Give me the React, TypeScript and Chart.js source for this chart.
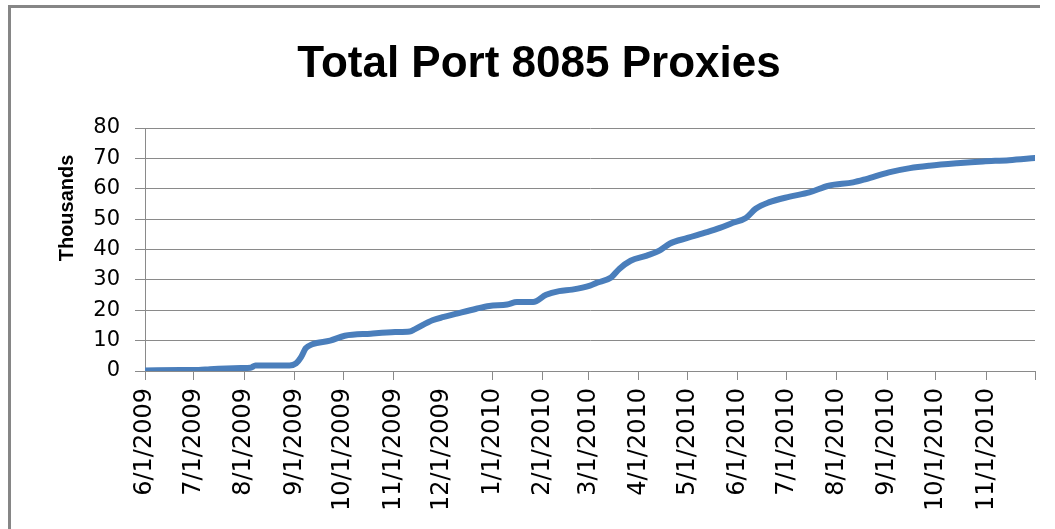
import React, { useEffect, useRef } from "react";
import { Chart, registerables } from "chart.js";

Chart.register(...registerables);

const chartTitle = "Total Port 8085 Proxies";
const yAxisTitle = "Thousands";

const obsDates = [
  "2009-06-01", "2009-06-23", "2009-07-04", "2009-07-11", "2009-07-30", "2009-08-05",
  "2009-08-08", "2009-08-29", "2009-09-02", "2009-09-05", "2009-09-08", "2009-09-12",
  "2009-09-23", "2009-10-02", "2009-10-18", "2009-11-02", "2009-11-11", "2009-11-14",
  "2009-11-25", "2009-12-02", "2009-12-10", "2009-12-22", "2009-12-30", "2010-01-10",
  "2010-01-16", "2010-01-26", "2010-02-03", "2010-02-11", "2010-02-19", "2010-03-02",
  "2010-03-06", "2010-03-15", "2010-03-20", "2010-03-27", "2010-04-06", "2010-04-14",
  "2010-04-20", "2010-05-01", "2010-05-13", "2010-05-21", "2010-05-29", "2010-06-06",
  "2010-06-12", "2010-06-20", "2010-07-03", "2010-07-15", "2010-07-27", "2010-08-11",
  "2010-08-19", "2010-09-02", "2010-09-15", "2010-09-27", "2010-10-14", "2010-10-30",
  "2010-11-15", "2010-12-01",
];
const proxiesThousands = [
  0.2, 0.3, 0.3, 0.6, 1.0, 1.1,
  1.8, 1.8, 2.5, 4.5, 7.5, 8.8,
  10.0, 11.6, 12.3, 12.8, 13.0, 13.7,
  16.7, 17.8, 18.9, 20.5, 21.4, 21.9,
  22.7, 22.7, 25.1, 26.3, 26.8, 28.1,
  29.0, 30.8, 33.6, 36.3, 38.0, 39.7,
  41.9, 43.8, 45.7, 47.1, 48.8, 50.4,
  53.4, 55.5, 57.4, 58.8, 61.0, 62.1,
  63.2, 65.4, 66.8, 67.6, 68.4, 69.0,
  69.4, 70.1,
];

// X axis ticks (month starts); last tick has no label
const tickDates = [
  "2009-06-01", "2009-07-01", "2009-08-01", "2009-09-01", "2009-10-01", "2009-11-01",
  "2009-12-01", "2010-01-01", "2010-02-01", "2010-03-01", "2010-04-01", "2010-05-01",
  "2010-06-01", "2010-07-01", "2010-08-01", "2010-09-01", "2010-10-01", "2010-11-01",
  "2010-12-01",
];
const tickLabels = [
  "6/1/2009", "7/1/2009", "8/1/2009", "9/1/2009", "10/1/2009", "11/1/2009",
  "12/1/2009", "1/1/2010", "2/1/2010", "3/1/2010", "4/1/2010", "5/1/2010",
  "6/1/2010", "7/1/2010", "8/1/2010", "9/1/2010", "10/1/2010", "11/1/2010",
  "",
];
const yMin = 0;
const yMax = 80;
const yStep = 10;

const startMs = Date.UTC(2009, 5, 1);
const toDay = (s: string) => {
  const [y, m, d] = s.split("-").map(Number);
  return Math.round((Date.UTC(y, m - 1, d) - startMs) / 86400000);
};

const W = 1055;
const H = 529;

export default function App() {
  const ref = useRef<HTMLCanvasElement | null>(null);

  useEffect(() => {
    if (!ref.current) return;
    const points = obsDates.map((d, i) => ({ x: toDay(d), y: proxiesThousands[i] }));
    const tickDays = tickDates.map(toDay);

    const titlePlugin = {
      id: "titles",
      afterDraw(chart: any) {
        const ctx = chart.ctx;
        const area = chart.chartArea;
        ctx.save();
        ctx.fillStyle = "#000";
        ctx.font = "bold 44px 'Liberation Sans', Arial, sans-serif";
        ctx.textAlign = "center";
        ctx.textBaseline = "alphabetic";
        ctx.fillText(chartTitle, 539, 77);
        ctx.translate(73, area.top + 80);
        ctx.rotate(-Math.PI / 2);
        ctx.font = "bold 20px 'Liberation Sans', Arial, sans-serif";
        ctx.fillText(yAxisTitle, 0, 0);
        ctx.restore();
      },
    };

    const chart = new Chart(ref.current, {
      type: "line",
      data: {
        datasets: [
          {
            data: points,
            borderColor: "#4a7ebb",
            backgroundColor: "#4a7ebb",
            borderWidth: 6,
            pointRadius: 0,
            borderCapStyle: "round",
            borderJoinStyle: "round",
            cubicInterpolationMode: "monotone",
          },
        ],
      },
      options: {
        responsive: false,
        animation: false,
        layout: { padding: { top: 128, left: 0, right: 20, bottom: 0 } },
        plugins: { legend: { display: false }, title: { display: false }, tooltip: { enabled: false } },
        scales: {
          x: {
            type: "linear",
            min: tickDays[0],
            max: tickDays[tickDays.length - 1],
            afterBuildTicks: (scale: any) => {
              scale.ticks = tickDays.map((v) => ({ value: v }));
            },
            afterFit: (scale: any) => {
              scale.height = H - 371;
              scale.paddingRight = 0;
            },
            ticks: {
              autoSkip: false,
              maxRotation: 90,
              minRotation: 90,
              padding: 8,
              color: "#000",
              font: { family: "'DejaVu Sans', sans-serif", size: 24 },
              callback: (_v: any, i: number) => tickLabels[i],
            },
            grid: {
              drawOnChartArea: false,
              drawTicks: true,
              tickLength: 9,
              color: (c: any) => (c.index === 6 ? "rgba(0,0,0,0)" : "#8a8a8a"),
            },
            border: { display: true, color: "#8a8a8a", width: 1 },
          },
          y: {
            min: yMin,
            max: yMax,
            afterFit: (scale: any) => {
              scale.width = 145;
            },
            ticks: {
              stepSize: yStep,
              padding: 15,
              color: "#000",
              font: { family: "'DejaVu Sans', sans-serif", size: 21 },
            },
            grid: { color: "#8a8a8a", lineWidth: 1, tickLength: 10, drawTicks: true },
            border: { display: true, color: "#8a8a8a", width: 1 },
          },
        },
      },
      plugins: [titlePlugin],
    } as any);

    return () => chart.destroy();
  }, []);

  return (
    <div
      style={{
        position: "fixed",
        left: 0,
        top: 0,
        width: W,
        height: H,
        overflow: "hidden",
        background: "#fff",
      }}
    >
      <div
        style={{
          position: "absolute",
          left: 8,
          top: 5,
          width: 1032,
          height: 700,
          borderTop: "3px solid #868686",
          borderLeft: "3px solid #868686",
          boxSizing: "border-box",
        }}
      />
      <canvas ref={ref} width={W} height={H} style={{ position: "absolute", left: 0, top: 0 }} />
    </div>
  );
}
